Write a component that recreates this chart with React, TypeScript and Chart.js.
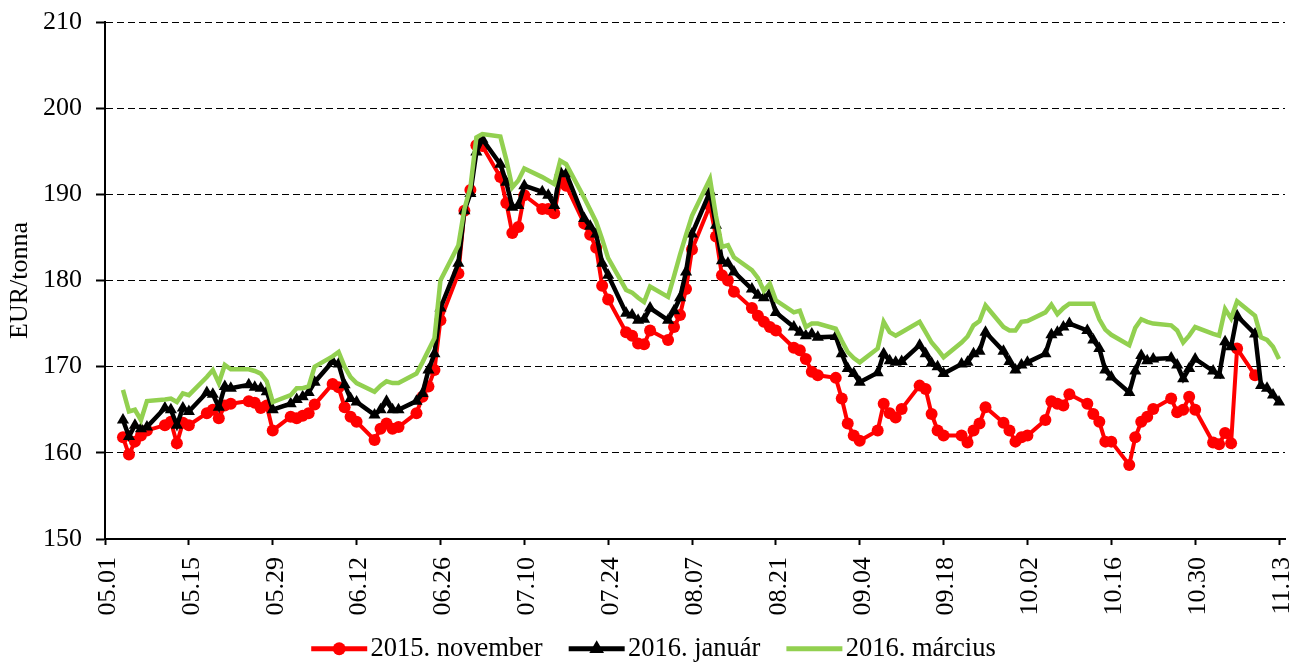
import { useEffect, useRef } from "react";
import { Chart, registerables } from "chart.js";

Chart.register(...registerables);

const FONT = "'Liberation Serif', 'Times New Roman', Times, serif";

// Trading days (2015), MM.DD
const tradeDates = [
  "05.04", "05.05", "05.06", "05.07", "05.08",
  "05.11", "05.12", "05.13", "05.14", "05.15",
  "05.18", "05.19", "05.20", "05.21", "05.22",
  "05.25", "05.26", "05.27", "05.28", "05.29",
  "06.01", "06.02", "06.03", "06.04", "06.05",
  "06.08", "06.09", "06.10", "06.11", "06.12",
  "06.15", "06.16", "06.17", "06.18", "06.19",
  "06.22", "06.23", "06.24", "06.25", "06.26",
  "06.29", "06.30", "07.01", "07.02", "07.03",
  "07.06", "07.07", "07.08", "07.09", "07.10",
  "07.13", "07.14", "07.15", "07.16", "07.17",
  "07.20", "07.21", "07.22", "07.23", "07.24",
  "07.27", "07.28", "07.29", "07.30", "07.31",
  "08.03", "08.04", "08.05", "08.06", "08.07",
  "08.10", "08.11", "08.12", "08.13", "08.14",
  "08.17", "08.18", "08.19", "08.20", "08.21",
  "08.24", "08.25", "08.26", "08.27", "08.28",
  "08.31", "09.01", "09.02", "09.03", "09.04",
  "09.07", "09.08", "09.09", "09.10", "09.11",
  "09.14", "09.15", "09.16", "09.17", "09.18",
  "09.21", "09.22", "09.23", "09.24", "09.25",
  "09.28", "09.29", "09.30", "10.01", "10.02",
  "10.05", "10.06", "10.07", "10.08", "10.09",
  "10.12", "10.13", "10.14", "10.15", "10.16",
  "10.19", "10.20", "10.21", "10.22", "10.23",
  "10.26", "10.27", "10.28", "10.29", "10.30",
  "11.02", "11.03", "11.04", "11.05", "11.06",
  "11.09", "11.10", "11.11", "11.12", "11.13",
];

const nov2015: (number | null)[] = [
  161.8, 159.8, 161.3, 162.0, 162.6,
  163.2, 163.6, 161.1, 163.5, 163.2,
  164.6, 165.0, 164.0, 165.5, 165.7,
  166.0, 165.8, 165.2, 165.5, 162.6,
  164.2, 164.0, 164.3, 164.6, 165.6,
  168.0, 167.6, 165.3, 164.2, 163.6,
  161.5, 162.8, 163.4, 162.8, 163.0,
  164.6, 166.5, 167.7, 169.6, 175.4,
  180.8, 188.1, 190.5, 195.7, 195.6,
  192.0, 189.0, 185.5, 186.2, 189.9,
  188.3, 188.3, 187.8, 191.6, 191.0,
  186.6, 185.3, 183.8, 179.4, 177.8,
  174.0, 173.6, 172.7, 172.6, 174.2,
  173.1, 174.6, 176.0, 179.0, 183.6,
  188.7, 185.1, 180.6, 180.0, 178.7,
  176.8, 175.9, 175.2, 174.6, 174.2,
  172.2, 171.9, 170.9, 169.4, 169.0,
  168.7, 166.3, 163.4, 162.0, 161.4,
  162.6, 165.7, 164.6, 164.1, 165.1,
  167.8, 167.4, 164.5, 162.6, 162.0,
  162.0, 161.2, 162.6, 163.4, 165.3,
  163.5, 162.6, 161.3, 161.8, 162.0,
  163.8, 166.0, 165.7, 165.5, 166.8,
  165.7, 164.5, 163.6, 161.3, 161.3,
  158.6, 161.8, 163.6, 164.2, 165.1,
  166.3, 164.7, 165.0, 166.5, 165.0,
  161.2, 161.0, 162.3, 161.1, 172.1,
  169.0, null, null, null, null,
];

const jan2016 = [
  163.8, 161.9, 163.2, 162.8, 163.0,
  165.2, 165.0, 163.2, 165.2, 164.8,
  167.0, 166.8, 165.3, 167.7, 167.5,
  167.9, 167.6, 167.5, 167.1, 165.0,
  165.7, 166.2, 166.5, 167.0, 168.2,
  170.6, 170.3, 167.9, 166.3, 165.9,
  164.4, 165.0, 166.0, 165.0, 165.0,
  166.0, 166.9, 169.6, 171.5, 176.8,
  182.0, 188.1, 190.1, 194.9, 196.4,
  193.5, 191.4, 188.5, 188.7, 191.0,
  190.3, 189.9, 188.7, 192.6, 192.4,
  187.2, 186.3, 185.4, 182.0, 180.6,
  176.2, 176.0, 175.4, 175.5, 176.8,
  175.4, 176.5, 178.0, 181.0, 185.4,
  190.3, 186.4, 182.3, 182.0, 181.0,
  179.0, 178.3, 178.0, 178.5, 176.3,
  174.6, 174.0, 173.6, 173.8, 173.4,
  173.5, 171.5, 169.8, 169.2, 168.2,
  169.3, 171.5, 170.7, 170.5, 170.6,
  172.5, 171.5, 170.4, 170.0, 169.2,
  170.3, 170.5, 171.5, 171.8, 174.0,
  171.8, 170.6, 169.6, 170.2, 170.5,
  171.5, 173.7, 174.0, 174.6, 175.0,
  174.2, 173.1, 172.1, 169.6, 168.8,
  167.0, 169.5, 171.3, 170.7, 170.9,
  171.0, 170.2, 168.6, 169.8, 170.9,
  169.5, 169.0, 172.9, 172.3, 175.9,
  173.8, 167.8, 167.5, 166.7, 165.9,
];

const mar2016 = [
  167.3, 164.8, 165.0, 163.8, 166.0,
  166.2, 166.3, 165.9, 166.9, 166.7,
  168.8, 169.6, 168.1, 170.2, 169.7,
  169.7, 169.5, 169.2, 168.3, 165.9,
  166.7, 167.5, 167.5, 167.7, 170.0,
  171.2, 171.7, 170.0, 168.8, 168.1,
  167.1, 167.8, 168.3, 168.1, 168.1,
  169.2, 170.5, 171.9, 173.3, 180.0,
  184.1, 188.3, 190.8, 196.6, 197.0,
  196.7, 194.0, 190.8, 191.6, 193.0,
  192.0, 191.6, 191.2, 193.9, 193.5,
  189.6, 188.2, 186.8, 184.8, 182.6,
  178.9, 178.6, 178.0, 177.5, 179.3,
  178.1, 180.5, 183.0, 185.3, 187.5,
  191.8, 187.5, 183.9, 184.1, 182.7,
  181.2, 180.3, 178.8, 179.6, 177.7,
  176.3, 176.5, 174.6, 175.0, 175.0,
  174.4, 173.0, 171.7, 171.0, 170.5,
  172.1, 175.2, 174.0, 173.6, 174.0,
  175.2, 174.0, 172.8, 172.0, 171.1,
  172.8, 173.5, 174.8, 175.3, 177.1,
  174.6, 174.2, 174.2, 175.2, 175.3,
  176.3, 177.2, 176.1, 176.8, 177.3,
  177.3, 177.3, 175.5, 174.3, 173.7,
  172.5, 174.5, 175.5, 175.2, 175.0,
  174.8, 174.2, 172.8, 173.6, 174.6,
  173.8, 173.6, 176.7, 175.6, 177.6,
  175.9, 173.4, 173.1, 172.3, 170.9,
];

const xTickLabels = [
  "05.01", "05.15", "05.29", "06.12", "06.26", "07.10", "07.24", "08.07",
  "08.21", "09.04", "09.18", "10.02", "10.16", "10.30", "11.13",
];

const seriesNames = ["2015. november", "2016. január", "2016. március"];
const seriesColors = ["#FF0000", "#000000", "#92D050"];
const yTitle = "EUR/tonna";

function dayOffset(s: string): number {
  const [m, d] = s.split(".").map(Number);
  return (Date.UTC(2015, m - 1, d) - Date.UTC(2015, 4, 1)) / 86400000;
}

function toPoints(values: (number | null)[]) {
  return tradeDates.map((d, i) => ({ x: dayOffset(d), y: values[i] }));
}

// legend sample: line + marker, drawn inside each legend item's box
const LEGEND_LINE_OFFSET = 15;
const LEGEND_LINE_LEN = 56;

const legendSamples = {
  id: "legendSamples",
  afterDraw(chart: any) {
    const legend = chart.legend;
    if (!legend || !legend.legendHitBoxes) return;
    const ctx = chart.ctx;
    legend.legendItems.forEach((item: any, i: number) => {
      const hb = legend.legendHitBoxes[i];
      if (!hb) return;
      const ds = chart.data.datasets[item.datasetIndex];
      const cy = hb.top + hb.height / 2;
      const x0 = hb.left + LEGEND_LINE_OFFSET;
      const x1 = x0 + LEGEND_LINE_LEN;
      ctx.save();
      ctx.strokeStyle = ds.borderColor;
      ctx.lineWidth = 5;
      ctx.lineCap = "butt";
      ctx.beginPath();
      ctx.moveTo(x0, cy);
      ctx.lineTo(x1, cy);
      ctx.stroke();
      const cx = (x0 + x1) / 2;
      ctx.fillStyle = ds.borderColor;
      if (ds.pointStyle === "circle" && ds.pointRadius > 0) {
        ctx.beginPath();
        ctx.arc(cx, cy, ds.pointRadius + 0.5, 0, Math.PI * 2);
        ctx.fill();
      } else if (ds.pointStyle === "triangle" && ds.pointRadius > 0) {
        const r = ds.pointRadius + 1.5;
        ctx.beginPath();
        for (let k = 0; k < 3; k++) {
          const a = (k * 2 * Math.PI) / 3;
          const px = cx + Math.sin(a) * r;
          const py = cy - Math.cos(a) * r;
          if (k === 0) ctx.moveTo(px, py);
          else ctx.lineTo(px, py);
        }
        ctx.closePath();
        ctx.fill();
      }
      ctx.restore();
    });
  },
};

export default function App() {
  const ref = useRef<HTMLCanvasElement | null>(null);

  useEffect(() => {
    if (!ref.current) return;
    const chart = new Chart(ref.current, {
      type: "line",
      data: {
        datasets: [
          {
            label: seriesNames[0],
            data: toPoints(nov2015),
            borderColor: seriesColors[0],
            backgroundColor: seriesColors[0],
            borderWidth: 4,
            pointStyle: "circle",
            pointRadius: 6,
            pointBorderWidth: 0,
            pointBackgroundColor: seriesColors[0],
            tension: 0,
            spanGaps: false,
            order: 3,
          },
          {
            label: seriesNames[1],
            data: toPoints(jan2016),
            borderColor: seriesColors[1],
            backgroundColor: seriesColors[1],
            borderWidth: 4.5,
            pointStyle: "triangle",
            pointRadius: 7,
            pointBorderWidth: 0,
            pointBackgroundColor: seriesColors[1],
            tension: 0,
            order: 2,
          },
          {
            label: seriesNames[2],
            data: toPoints(mar2016),
            borderColor: seriesColors[2],
            backgroundColor: seriesColors[2],
            borderWidth: 4.5,
            pointStyle: "circle",
            pointRadius: 0,
            tension: 0,
            order: 1,
          },
        ],
      },
      options: {
        responsive: false,
        animation: false,
        devicePixelRatio: 1,
        layout: { padding: { top: 22, right: 11, bottom: 0, left: 7 } },
        plugins: {
          tooltip: { enabled: false },
          legend: {
            position: "bottom",
            align: "center",
            labels: {
              color: "#000",
              font: { family: FONT, size: 26.5 },
              boxWidth: 61,
              boxHeight: 4,
              padding: 11,
              sort: (a: any, b: any) => a.datasetIndex - b.datasetIndex,
              generateLabels: (c: any) =>
                Chart.defaults.plugins.legend.labels
                  .generateLabels(c)
                  .map((it: any) => ({
                    ...it,
                    fillStyle: "rgba(0,0,0,0)",
                    strokeStyle: "rgba(0,0,0,0)",
                    lineWidth: 0,
                  })),
            },
          },
        },
        scales: {
          x: {
            type: "linear",
            min: 0,
            max: 197,
            afterBuildTicks: (scale: any) => {
              scale.ticks = xTickLabels.map((l) => ({ value: dayOffset(l) }));
            },
            afterFit: (scale: any) => {
              scale.height = 85.5;
              scale.paddingLeft = 0;
              scale.paddingRight = 0;
            },
            ticks: {
              autoSkip: false,
              minRotation: 90,
              maxRotation: 90,
              padding: 12,
              labelOffset: 3,
              color: "#000",
              font: { family: FONT, size: 26 },
              callback: (_v: any, i: number) => xTickLabels[i],
            },
            grid: {
              drawOnChartArea: false,
              drawTicks: true,
              tickLength: 6,
              tickColor: "#000",
              tickWidth: 2,
            },
            border: { display: true, color: "#000", width: 2 },
          },
          y: {
            min: 150,
            max: 210,
            afterFit: (scale: any) => {
              scale.width = 98;
              scale.paddingTop = 0;
              scale.paddingBottom = 0;
            },
            ticks: {
              stepSize: 10,
              padding: 14,
              color: "#000",
              font: { family: FONT, size: 26 },
            },
            grid: {
              color: "#000",
              lineWidth: 1,
              tickLength: 9,
              tickColor: "#000",
              tickWidth: 2,
            },
            border: { display: true, color: "#000", width: 2, dash: [7, 4] },
            title: {
              display: true,
              text: yTitle,
              color: "#000",
              font: { family: FONT, size: 26 },
              padding: { top: -2, bottom: 0 },
            },
          },
        },
      },
      plugins: [legendSamples],
    } as any);
    return () => chart.destroy();
  }, []);

  return (
    <div
      style={{
        position: "fixed",
        left: 0,
        top: 0,
        width: 1296,
        height: 672,
        background: "#fff",
      }}
    >
      <canvas ref={ref} width={1296} height={672} style={{ display: "block" }} />
    </div>
  );
}
